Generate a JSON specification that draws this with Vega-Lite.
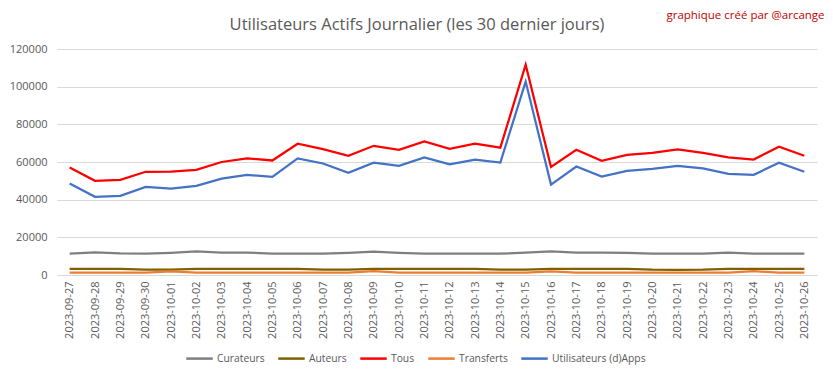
{
  "$schema": "https://vega.github.io/schema/vega-lite/v6.json",
  "width": 760,
  "height": 226,
  "autosize": {"type": "none"},
  "padding": {"left": 57, "top": 49, "right": 16, "bottom": 104},
  "background": "white",
  "title": {
    "text": "Utilisateurs Actifs Journalier (les 30 dernier jours)",
    "frame": "group",
    "anchor": "middle",
    "dx": -20,
    "offset": -37,
    "baseline": "alphabetic",
    "font": "Open Sans",
    "fontSize": 16.5,
    "fontWeight": "normal",
    "color": "#595959"
  },
  "data": {
    "values": [
      {"date": "2023-09-27", "Curateurs": 11300, "Auteurs": 3300, "Tous": 57100, "Transferts": 1200, "Utilisateurs (d)Apps": 48600},
      {"date": "2023-09-28", "Curateurs": 12000, "Auteurs": 3300, "Tous": 50000, "Transferts": 1200, "Utilisateurs (d)Apps": 41500},
      {"date": "2023-09-29", "Curateurs": 11500, "Auteurs": 3300, "Tous": 50500, "Transferts": 1200, "Utilisateurs (d)Apps": 42000},
      {"date": "2023-09-30", "Curateurs": 11300, "Auteurs": 2800, "Tous": 54800, "Transferts": 1300, "Utilisateurs (d)Apps": 46800},
      {"date": "2023-10-01", "Curateurs": 11800, "Auteurs": 2800, "Tous": 54900, "Transferts": 1900, "Utilisateurs (d)Apps": 45900},
      {"date": "2023-10-02", "Curateurs": 12500, "Auteurs": 3300, "Tous": 55800, "Transferts": 1300, "Utilisateurs (d)Apps": 47300},
      {"date": "2023-10-03", "Curateurs": 11900, "Auteurs": 3300, "Tous": 60000, "Transferts": 1200, "Utilisateurs (d)Apps": 51200},
      {"date": "2023-10-04", "Curateurs": 11900, "Auteurs": 3300, "Tous": 61900, "Transferts": 1200, "Utilisateurs (d)Apps": 53200},
      {"date": "2023-10-05", "Curateurs": 11300, "Auteurs": 3300, "Tous": 60800, "Transferts": 1200, "Utilisateurs (d)Apps": 52100},
      {"date": "2023-10-06", "Curateurs": 11300, "Auteurs": 3300, "Tous": 69700, "Transferts": 1200, "Utilisateurs (d)Apps": 61900},
      {"date": "2023-10-07", "Curateurs": 11300, "Auteurs": 2800, "Tous": 66800, "Transferts": 1200, "Utilisateurs (d)Apps": 59200},
      {"date": "2023-10-08", "Curateurs": 11800, "Auteurs": 2800, "Tous": 63300, "Transferts": 1300, "Utilisateurs (d)Apps": 54300},
      {"date": "2023-10-09", "Curateurs": 12400, "Auteurs": 3300, "Tous": 68600, "Transferts": 2000, "Utilisateurs (d)Apps": 59600},
      {"date": "2023-10-10", "Curateurs": 11800, "Auteurs": 3300, "Tous": 66500, "Transferts": 1300, "Utilisateurs (d)Apps": 58000},
      {"date": "2023-10-11", "Curateurs": 11300, "Auteurs": 3300, "Tous": 70900, "Transferts": 1200, "Utilisateurs (d)Apps": 62400},
      {"date": "2023-10-12", "Curateurs": 11300, "Auteurs": 3300, "Tous": 67000, "Transferts": 1200, "Utilisateurs (d)Apps": 58700},
      {"date": "2023-10-13", "Curateurs": 11300, "Auteurs": 3300, "Tous": 69700, "Transferts": 1200, "Utilisateurs (d)Apps": 61200},
      {"date": "2023-10-14", "Curateurs": 11300, "Auteurs": 2800, "Tous": 67600, "Transferts": 1200, "Utilisateurs (d)Apps": 59700},
      {"date": "2023-10-15", "Curateurs": 11900, "Auteurs": 2800, "Tous": 111700, "Transferts": 1300, "Utilisateurs (d)Apps": 102700},
      {"date": "2023-10-16", "Curateurs": 12500, "Auteurs": 3300, "Tous": 57400, "Transferts": 1900, "Utilisateurs (d)Apps": 48000},
      {"date": "2023-10-17", "Curateurs": 11900, "Auteurs": 3300, "Tous": 66500, "Transferts": 1300, "Utilisateurs (d)Apps": 57600},
      {"date": "2023-10-18", "Curateurs": 11900, "Auteurs": 3300, "Tous": 60600, "Transferts": 1200, "Utilisateurs (d)Apps": 52300},
      {"date": "2023-10-19", "Curateurs": 11800, "Auteurs": 3300, "Tous": 63800, "Transferts": 1200, "Utilisateurs (d)Apps": 55300},
      {"date": "2023-10-20", "Curateurs": 11300, "Auteurs": 2800, "Tous": 64900, "Transferts": 1200, "Utilisateurs (d)Apps": 56400},
      {"date": "2023-10-21", "Curateurs": 11300, "Auteurs": 2700, "Tous": 66700, "Transferts": 1200, "Utilisateurs (d)Apps": 58000},
      {"date": "2023-10-22", "Curateurs": 11300, "Auteurs": 2800, "Tous": 64900, "Transferts": 1200, "Utilisateurs (d)Apps": 56600},
      {"date": "2023-10-23", "Curateurs": 11900, "Auteurs": 3300, "Tous": 62400, "Transferts": 1300, "Utilisateurs (d)Apps": 53700},
      {"date": "2023-10-24", "Curateurs": 11300, "Auteurs": 3300, "Tous": 61300, "Transferts": 2000, "Utilisateurs (d)Apps": 53200},
      {"date": "2023-10-25", "Curateurs": 11300, "Auteurs": 3300, "Tous": 68100, "Transferts": 1300, "Utilisateurs (d)Apps": 59600},
      {"date": "2023-10-26", "Curateurs": 11300, "Auteurs": 3300, "Tous": 63300, "Transferts": 1200, "Utilisateurs (d)Apps": 54800}
    ]
  },
  "transform": [
    {"fold": ["Curateurs", "Auteurs", "Tous", "Transferts", "Utilisateurs (d)Apps"], "as": ["serie", "valeur"]}
  ],
  "mark": {"type": "line", "strokeWidth": 2.25, "interpolate": "linear"},
  "encoding": {
    "x": {
      "field": "date",
      "type": "ordinal",
      "sort": null,
      "scale": {"type": "point", "padding": 0.5},
      "axis": {
        "title": null,
        "labelAngle": -90,
        "labelFont": "Open Sans",
        "labelFontSize": 11,
        "labelColor": "#595959",
        "labelPadding": 6,
        "ticks": false,
        "grid": false,
        "domainColor": "#d9d9d9",
        "domainWidth": 1
      }
    },
    "y": {
      "field": "valeur",
      "type": "quantitative",
      "scale": {"domain": [0, 120000], "nice": false},
      "axis": {
        "values": [0, 20000, 40000, 60000, 80000, 100000, 120000],
        "format": "d",
        "domain": false,
        "ticks": false,
        "gridColor": "#d9d9d9",
        "gridWidth": 1,
        "labelFont": "Open Sans",
        "labelFontSize": 11,
        "labelColor": "#595959",
        "labelPadding": 10,
        "title": "graphique créé par @arcange",
        "titleAngle": 0,
        "titleX": 688,
        "titleY": -34,
        "titleAlign": "center",
        "titleBaseline": "middle",
        "titleColor": "#c00000",
        "titleFont": "Open Sans",
        "titleFontSize": 11.5,
        "titleFontWeight": "normal"
      }
    },
    "color": {
      "field": "serie",
      "type": "nominal",
      "scale": {
        "domain": ["Curateurs", "Auteurs", "Tous", "Transferts", "Utilisateurs (d)Apps"],
        "range": ["#7f7f7f", "#7f6000", "#ff0000", "#ed7d31", "#4472c4"]
      },
      "legend": {
        "title": null,
        "orient": "none",
        "legendX": 128,
        "legendY": 295,
        "direction": "horizontal",
        "symbolType": "stroke",
        "symbolSize": 700,
        "symbolStrokeWidth": 2.5,
        "labelFont": "Open Sans",
        "labelFontSize": 10.3,
        "labelColor": "#595959",
        "labelOffset": 3,
        "columnPadding": 8
      }
    }
  },
  "config": {"view": {"stroke": null}}
}
